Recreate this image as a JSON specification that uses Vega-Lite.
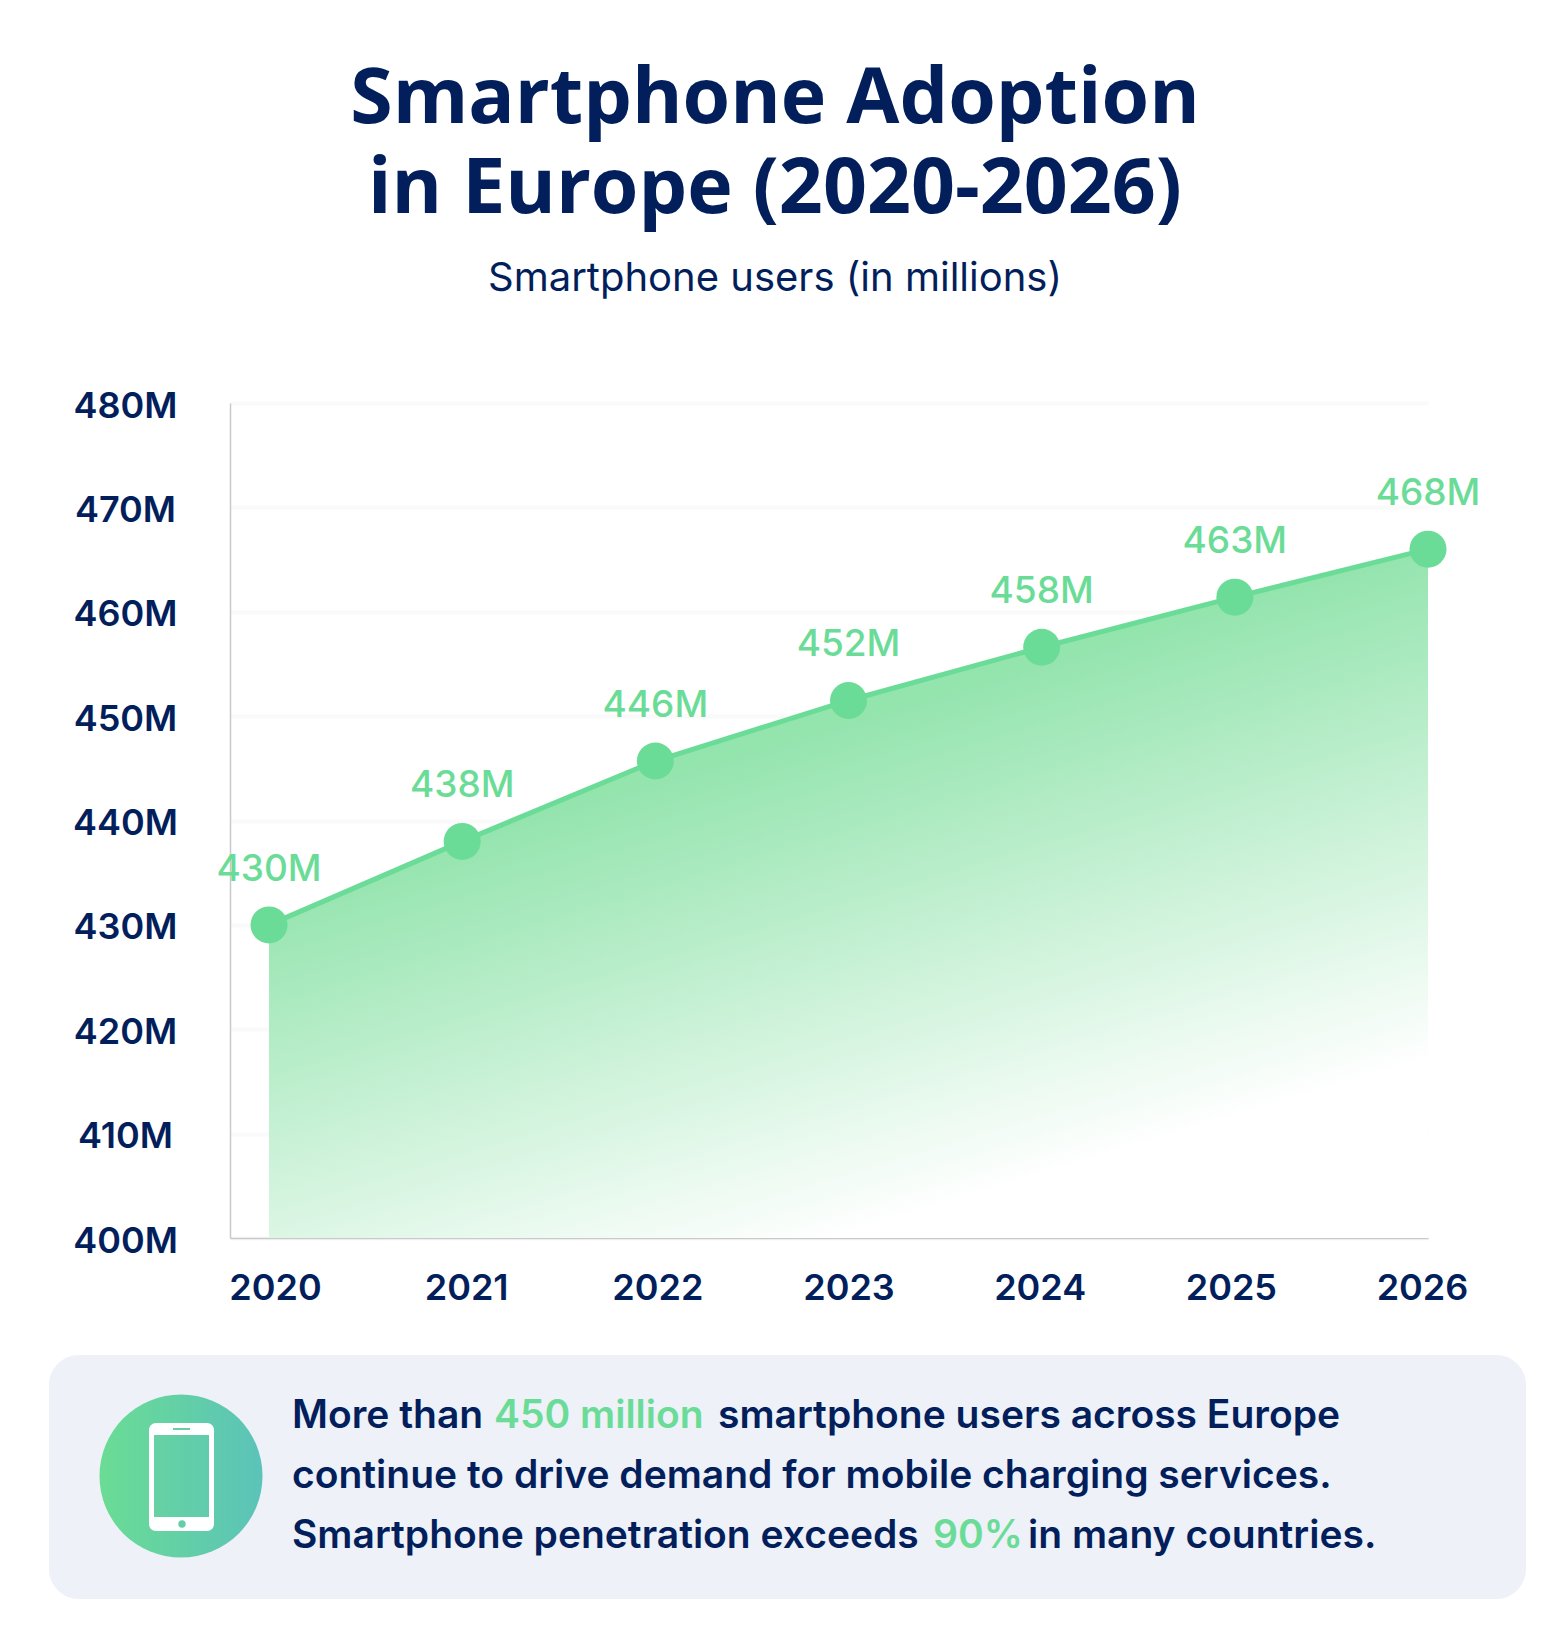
{
  "$schema": "https://vega.github.io/schema/vega-lite/v6.json",
  "description": "Smartphone adoption in Europe",
  "background": "#ffffff",
  "autosize": "none",
  "padding": {"left": 230, "top": 403, "right": 123, "bottom": 391},
  "width": 1198,
  "height": 835,
  "title": {
    "text": ["Smartphone Adoption", "in Europe (2020-2026)"],
    "subtitle": "Smartphone users (in millions)",
    "anchor": "middle",
    "dx": -54,
    "offset": 88,
    "font": "Open Sans",
    "fontSize": 77,
    "fontWeight": 700,
    "lineHeight": 90,
    "color": "#021f5c",
    "subtitleFont": "Inter",
    "subtitleFontSize": 40,
    "subtitleFontWeight": 400,
    "subtitleColor": "#021f5c",
    "subtitlePadding": 30
  },
  "config": {"view": {"stroke": null}},
  "data": {
    "values": [
      {"year": 2020, "users": 430, "label": "430M"},
      {"year": 2021, "users": 438, "label": "438M"},
      {"year": 2022, "users": 445.7, "label": "446M"},
      {"year": 2023, "users": 451.5, "label": "452M"},
      {"year": 2024, "users": 456.6, "label": "458M"},
      {"year": 2025, "users": 461.4, "label": "463M"},
      {"year": 2026, "users": 466, "label": "468M"}
    ]
  },
  "encoding": {
    "x": {
      "field": "year",
      "type": "quantitative",
      "scale": {"domain": [2019.798, 2026], "nice": false, "zero": false},
      "axis": {
        "title": null,
        "values": [2020, 2021, 2022, 2023, 2024, 2025, 2026],
        "format": "d",
        "grid": false,
        "ticks": false,
        "domainColor": "#c9c9c9",
        "domainWidth": 1.5,
        "labelFont": "Inter",
        "labelFontSize": 36,
        "labelFontWeight": 600,
        "labelColor": "#021f5c",
        "labelPadding": 33,
        "labelOffset": {"expr": "(2023 - datum.value) * 2"},
        "labelBound": false,
        "labelFlush": false
      }
    },
    "y": {
      "field": "users",
      "type": "quantitative",
      "scale": {"domain": [400, 480], "nice": false, "zero": false},
      "axis": {
        "title": null,
        "values": [400, 410, 420, 430, 440, 450, 460, 470, 480],
        "labelExpr": "datum.value + 'M'",
        "grid": true,
        "gridColor": "#fafafa",
        "gridWidth": 4,
        "ticks": false,
        "domainColor": "#c9c9c9",
        "domainWidth": 1.5,
        "labelFont": "Inter",
        "labelFontSize": 36,
        "labelFontWeight": 600,
        "labelColor": "#021f5c",
        "labelAlign": "center",
        "labelPadding": 105,
        "labelOffset": 3,
        "labelBound": false,
        "labelFlush": false
      }
    }
  },
  "layer": [
    {
      "mark": {
        "type": "area",
        "color": {
          "gradient": "linear",
          "x1": 0,
          "y1": 0,
          "x2": 0.503,
          "y2": 0.996,
          "stops": [
            {"offset": 0.4, "color": "#94e4ae"},
            {"offset": 1, "color": "#ffffff"}
          ]
        }
      },
      "encoding": {"y2": {"datum": 400}}
    },
    {"mark": {"type": "line", "color": "#6bdc97", "strokeWidth": 5}},
    {"mark": {"type": "point", "filled": true, "opacity": 1, "size": 1369, "color": "#6bdc97"}},
    {
      "mark": {"type": "text", "font": "Inter", "fontSize": 37, "fontWeight": 500, "color": "#6bdc97", "dy": -55},
      "encoding": {"text": {"field": "label"}}
    },
    {
      "data": {"values": [{"part": "card"}]},
      "mark": {"type": "rect", "fill": "#eef1f8", "cornerRadius": 30, "x": -181, "x2": 1296, "y": 952, "y2": 1196},
      "encoding": {"x": null, "y": null}
    },
    {
      "data": {"values": [{"part": "badge"}]},
      "mark": {
        "type": "point",
        "filled": true,
        "opacity": 1,
        "shape": "circle",
        "size": 26569,
        "x": -49,
        "y": 1073,
        "fill": {
          "gradient": "linear",
          "x1": 0,
          "y1": 0,
          "x2": 1,
          "y2": 0,
          "stops": [
            {"offset": 0, "color": "#6bdc94"},
            {"offset": 1, "color": "#5bc3b9"}
          ]
        }
      },
      "encoding": {"x": null, "y": null}
    },
    {
      "data": {"values": [{"part": "phone"}]},
      "mark": {"type": "rect", "fill": "#ffffff", "cornerRadius": 7, "x": -81, "x2": -16, "y": 1020, "y2": 1128},
      "encoding": {"x": null, "y": null}
    },
    {
      "data": {"values": [{"part": "screen"}]},
      "mark": {
        "type": "rect",
        "x": -76,
        "x2": -21,
        "y": 1032,
        "y2": 1114,
        "fill": {
          "gradient": "linear",
          "x1": 0,
          "y1": 0,
          "x2": 1,
          "y2": 0,
          "stops": [
            {"offset": 0, "color": "#66d2a3"},
            {"offset": 1, "color": "#60ccad"}
          ]
        }
      },
      "encoding": {"x": null, "y": null}
    },
    {
      "data": {"values": [{"part": "speaker"}]},
      "mark": {"type": "rect", "fill": "#63cfa8", "x": -57, "x2": -40, "y": 1025, "y2": 1027},
      "encoding": {"x": null, "y": null}
    },
    {
      "data": {"values": [{"part": "home"}]},
      "mark": {"type": "point", "filled": true, "opacity": 1, "shape": "circle", "size": 54, "fill": "#63cfa8", "x": -48, "y": 1121},
      "encoding": {"x": null, "y": null}
    },
    {
      "data": {"values": [{"segment": "More than"}]},
      "mark": {"type": "text", "font": "Inter", "fontSize": 39, "fontWeight": 600, "color": "#021f5c", "align": "left", "baseline": "middle", "x": 62, "y": 1013},
      "encoding": {"x": null, "y": null, "text": {"field": "segment"}}
    },
    {
      "data": {"values": [{"segment": "450 million"}]},
      "mark": {"type": "text", "font": "Inter", "fontSize": 39, "fontWeight": 600, "color": "#6bdc97", "align": "left", "baseline": "middle", "x": 264, "y": 1013},
      "encoding": {"x": null, "y": null, "text": {"field": "segment"}}
    },
    {
      "data": {"values": [{"segment": "smartphone users across Europe"}]},
      "mark": {"type": "text", "font": "Inter", "fontSize": 39, "fontWeight": 600, "color": "#021f5c", "align": "left", "baseline": "middle", "x": 488, "y": 1013},
      "encoding": {"x": null, "y": null, "text": {"field": "segment"}}
    },
    {
      "data": {"values": [{"segment": "continue to drive demand for mobile charging services."}]},
      "mark": {"type": "text", "font": "Inter", "fontSize": 39, "fontWeight": 600, "color": "#021f5c", "align": "left", "baseline": "middle", "x": 62, "y": 1073},
      "encoding": {"x": null, "y": null, "text": {"field": "segment"}}
    },
    {
      "data": {"values": [{"segment": "Smartphone penetration exceeds"}]},
      "mark": {"type": "text", "font": "Inter", "fontSize": 39, "fontWeight": 600, "color": "#021f5c", "align": "left", "baseline": "middle", "x": 62, "y": 1133},
      "encoding": {"x": null, "y": null, "text": {"field": "segment"}}
    },
    {
      "data": {"values": [{"segment": "90%"}]},
      "mark": {"type": "text", "font": "Inter", "fontSize": 39, "fontWeight": 600, "color": "#6bdc97", "align": "left", "baseline": "middle", "x": 703, "y": 1133},
      "encoding": {"x": null, "y": null, "text": {"field": "segment"}}
    },
    {
      "data": {"values": [{"segment": "in many countries."}]},
      "mark": {"type": "text", "font": "Inter", "fontSize": 39, "fontWeight": 600, "color": "#021f5c", "align": "left", "baseline": "middle", "x": 798, "y": 1133},
      "encoding": {"x": null, "y": null, "text": {"field": "segment"}}
    }
  ]
}
